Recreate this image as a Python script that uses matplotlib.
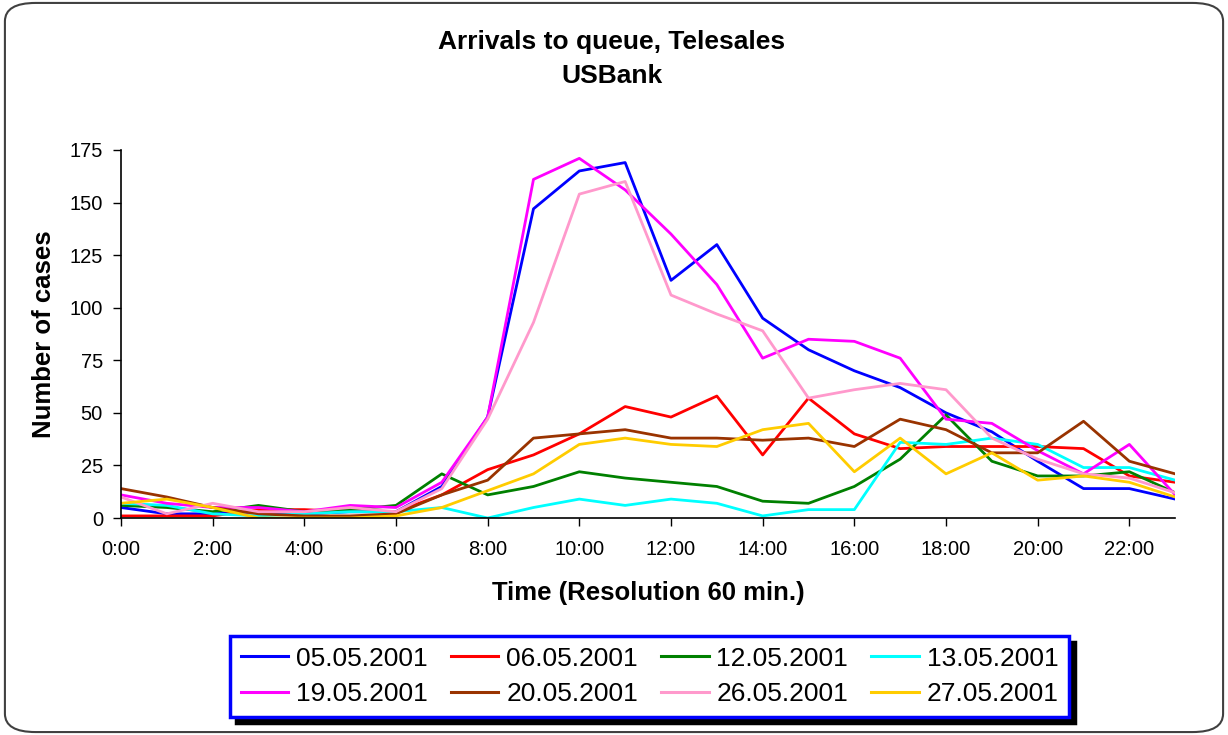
import matplotlib.pyplot as plt
from matplotlib.patches import FancyBboxPatch

plt.rcParams['font.family'] = ['Liberation Sans', 'DejaVu Sans']

# Hourly arrivals to the Telesales queue, one list per day
hours = list(range(24))
tick_hours = list(range(0, 24, 2))
tick_labels = ["%d:00" % h for h in tick_hours]

days = ["05.05.2001", "06.05.2001", "12.05.2001", "13.05.2001",
        "19.05.2001", "20.05.2001", "26.05.2001", "27.05.2001"]
day_colors = ["#0000FF", "#FF0000", "#008000", "#00FFFF",
              "#FF00FF", "#993300", "#FF99CC", "#FFCC00"]

may05 = [5, 2, 2, 3, 2, 3, 3, 15, 48, 147, 165, 169, 113, 130, 95, 80, 70, 62, 50, 41, 27, 14, 14, 9]
may06 = [1, 1, 1, 4, 4, 3, 3, 11, 23, 30, 40, 53, 48, 58, 30, 57, 40, 33, 34, 34, 34, 33, 20, 17]
may12 = [6, 5, 3, 6, 3, 4, 6, 21, 11, 15, 22, 19, 17, 15, 8, 7, 15, 28, 49, 27, 20, 20, 22, 12]
may13 = [7, 6, 2, 1, 2, 3, 3, 5, 0, 5, 9, 6, 9, 7, 1, 4, 4, 36, 35, 38, 35, 24, 24, 18]
may19 = [11, 7, 5, 5, 3, 6, 5, 17, 48, 161, 171, 156, 135, 111, 76, 85, 84, 76, 47, 45, 32, 21, 35, 11]
may20 = [14, 10, 5, 2, 1, 1, 2, 11, 18, 38, 40, 42, 38, 38, 37, 38, 34, 47, 42, 31, 31, 46, 27, 21]
may26 = [10, 2, 7, 3, 3, 5, 3, 14, 47, 93, 154, 160, 106, 97, 89, 57, 61, 64, 61, 38, 28, 21, 19, 12]
may27 = [7, 9, 5, 0, 0, 0, 1, 5, 13, 21, 35, 38, 35, 34, 42, 45, 22, 38, 21, 31, 18, 20, 17, 10]

series = [may05, may06, may12, may13, may19, may20, may26, may27]

fig = plt.figure(figsize=(12.28, 7.35), dpi=100)

# rounded frame around the whole chart, kept behind the axes
frame = FancyBboxPatch((0.004, 0.004), 0.992, 0.992, transform=fig.transFigure,
                       boxstyle="round,pad=0,rounding_size=0.025",
                       facecolor="white", edgecolor="#404040", linewidth=1.5,
                       zorder=-10)
fig.patches.append(frame)

ax = fig.add_axes([0.0985, 0.2952, 0.8585, 0.5008])
ax.set_facecolor("none")

lines = []
for vals, name, col in zip(series, days, day_colors):
    ln, = ax.plot(hours, vals, color=col, linewidth=2.0, label=name)
    lines.append(ln)

ax.set_xlim(0, 23)
ax.set_ylim(0, 175)
ax.set_xticks(tick_hours)
ax.set_xticklabels(tick_labels)
ax.set_yticks(range(0, 176, 25))
ax.tick_params(axis="both", labelsize=14.5, length=6, width=1, direction="out", pad=7)
ax.tick_params(axis="x", pad=10)

ax.spines["top"].set_visible(False)
ax.spines["right"].set_visible(False)
ax.spines["left"].set_linewidth(1.2)
ax.spines["bottom"].set_linewidth(1.2)

ax.set_xlabel("Time (Resolution 60 min.)", fontsize=18.5, fontweight="bold", labelpad=16)
ax.set_ylabel("Number of cases", fontsize=18.5, fontweight="bold", labelpad=10)

fig.text(0.498, 0.943, "Arrivals to queue, Telesales", ha="center", va="center",
         fontsize=19, fontweight="bold")
fig.text(0.498, 0.896, "USBank", ha="center", va="center",
         fontsize=19, fontweight="bold")

# legend is filled column by column, so reorder to read row by row
order = [0, 4, 1, 5, 2, 6, 3, 7]
leg = fig.legend([lines[i] for i in order], [days[i] for i in order],
                 loc="center", bbox_to_anchor=(0.529, 0.0796), ncol=4,
                 fontsize=19, handlelength=1.8, handletextpad=0.3,
                 columnspacing=0.87, labelspacing=0.45, borderpad=0.4,
                 fancybox=False, shadow={"color": "black", "alpha": 1.0, "ox": 4, "oy": -4})
leg.get_frame().set_edgecolor("#0000FF")
leg.get_frame().set_linewidth(2.5)
for line in leg.get_lines():
    line.set_linewidth(2.2)

fig.savefig("out.png", dpi=100)
